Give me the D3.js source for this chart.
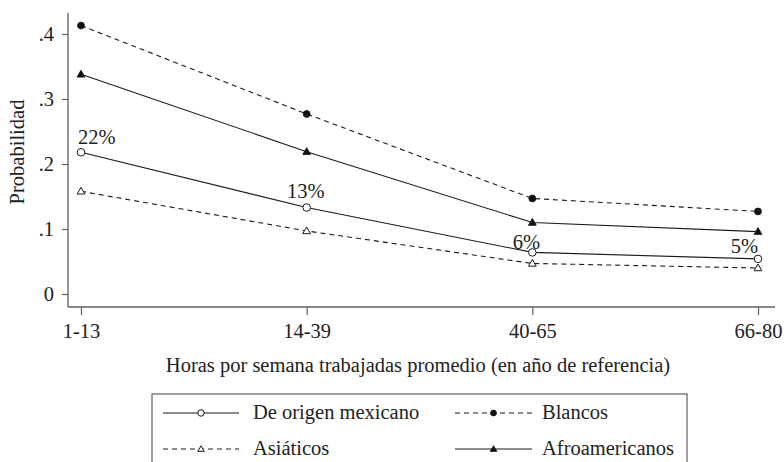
<!DOCTYPE html>
<html><head><meta charset="utf-8">
<script src="https://cdn.jsdelivr.net/npm/d3@7"></script>
<style>body{margin:0;background:#fff}svg{display:block}</style>
</head><body><svg id="c" width="784" height="462"></svg>
<script>
const categories = ["1-13","14-39","40-65","66-80"];
const mexicano = [0.218,0.133,0.064,0.054];
const blancos = [0.413,0.277,0.147,0.127];
const asiaticos = [0.158,0.097,0.047,0.040];
const afroamericanos = [0.338,0.219,0.110,0.096];
const pctLabels = ["22%","13%","6%","5%"];
const yTicks = [0,0.1,0.2,0.3,0.4];
const yTickLabels = ["0",".1",".2",".3",".4"];
const seriesNames = ["De origen mexicano","Blancos","Asiáticos","Afroamericanos"];

const FONT = "'Liberation Serif','Times New Roman',serif";
const FS = 20.5;
const axisColor = "#606060";
const lineColor = "#1a1a1a";
const textColor = "#222";

const series = [
  {name:seriesNames[0], values:mexicano, dash:null, marker:"circle", fill:"#fff"},
  {name:seriesNames[1], values:blancos, dash:"5,4", marker:"circle", fill:"#111"},
  {name:seriesNames[2], values:asiaticos, dash:"5,4", marker:"triangle", fill:"#fff"},
  {name:seriesNames[3], values:afroamericanos, dash:null, marker:"triangle", fill:"#111"}
];

const svg = d3.select("#c");
const x = d3.scalePoint().domain(categories).range([81,758]);
const y = d3.scaleLinear().domain([0,0.4]).range([294,34]);

function styleText(sel){
  return sel.style("font-family",FONT).style("font-size",FS+"px").style("fill",textColor);
}

// y axis
svg.append("line").attr("x1",68).attr("x2",68).attr("y1",13).attr("y2",307).attr("stroke",axisColor).attr("stroke-width",1.3);
const yAxis = d3.axisLeft(y).tickValues(yTicks).tickFormat((d,i)=>yTickLabels[i]).tickSize(6).tickPadding(8);
const gy = svg.append("g").attr("transform","translate(68,0)").call(yAxis);
gy.select(".domain").remove();
gy.selectAll(".tick line").attr("stroke",axisColor).attr("stroke-width",1.2);
styleText(gy.selectAll(".tick text"));

// x axis
svg.append("line").attr("x1",68).attr("x2",775).attr("y1",307).attr("y2",307).attr("stroke",axisColor).attr("stroke-width",1.3);
const xAxis = d3.axisBottom(x).tickSize(8).tickPadding(8);
const gx = svg.append("g").attr("transform","translate(0,307)").call(xAxis);
gx.select(".domain").remove();
gx.selectAll(".tick line").attr("stroke",axisColor).attr("stroke-width",1.2);
styleText(gx.selectAll(".tick text"));

// titles
styleText(svg.append("text").attr("x",418).attr("y",372).attr("text-anchor","middle"))
  .text("Horas por semana trabajadas promedio (en año de referencia)");
styleText(svg.append("text").attr("transform","translate(24,152) rotate(-90)").attr("text-anchor","middle"))
  .text("Probabilidad");

const line = d3.line().x((d,i)=>x(categories[i])).y(d=>y(d));

function drawMarker(g, s, cx, cy, small){
  if(s.marker==="circle"){
    const r = s.fill==="#fff" ? (small?3.2:3.8) : (small?2.9:3.4);
    g.append("circle").attr("cx",cx).attr("cy",cy).attr("r", r)
      .attr("fill",s.fill).attr("stroke",lineColor).attr("stroke-width",1);
  } else {
    g.append("path").attr("d", d3.symbol().type(d3.symbolTriangle).size(small?18:26)())
      .attr("transform",`translate(${cx},${cy+0.5})`)
      .attr("fill",s.fill).attr("stroke",lineColor).attr("stroke-width",1);
  }
}

series.forEach(s=>{
  svg.append("path").attr("d",line(s.values)).attr("fill","none").attr("stroke",lineColor)
    .attr("stroke-width",1.1).attr("stroke-dasharray",s.dash);
});
series.forEach(s=>{
  s.values.forEach((v,i)=>drawMarker(svg,s,x(categories[i]),y(v),false));
});

// percentage labels near the mexicano points (placement style per label)
const lblStyle = [
  {anchor:"start", dx:-3, dy:-8},
  {anchor:"middle", dx:-1, dy:-10},
  {anchor:"middle", dx:-6, dy:-3},
  {anchor:"end", dx:0, dy:-6}
];
mexicano.forEach((v,i)=>{
  const st = lblStyle[i];
  styleText(svg.append("text").attr("x",x(categories[i])+st.dx).attr("y",y(v)+st.dy)
    .attr("text-anchor",st.anchor)).text(pctLabels[i]);
});

// legend
const lg = svg.append("g");
lg.append("rect").attr("x",152).attr("y",394).attr("width",535).attr("height",90)
  .attr("fill","none").attr("stroke",axisColor).attr("stroke-width",1.2);
const legendPos = [
  {x0:163,x1:239,tx:253,y:413},
  {x0:455,x1:532,tx:542,y:413},
  {x0:163,x1:239,tx:253,y:449},
  {x0:455,x1:532,tx:542,y:449}
];
series.forEach((s,i)=>{
  const p = legendPos[i];
  lg.append("line").attr("x1",p.x0).attr("x2",p.x1).attr("y1",p.y).attr("y2",p.y)
    .attr("stroke",lineColor).attr("stroke-width",1.1).attr("stroke-dasharray",s.dash);
  drawMarker(lg,s,(p.x0+p.x1)/2,p.y,true);
  styleText(lg.append("text").attr("x",p.tx).attr("y",p.y+6)).text(s.name);
});
</script></body></html>
